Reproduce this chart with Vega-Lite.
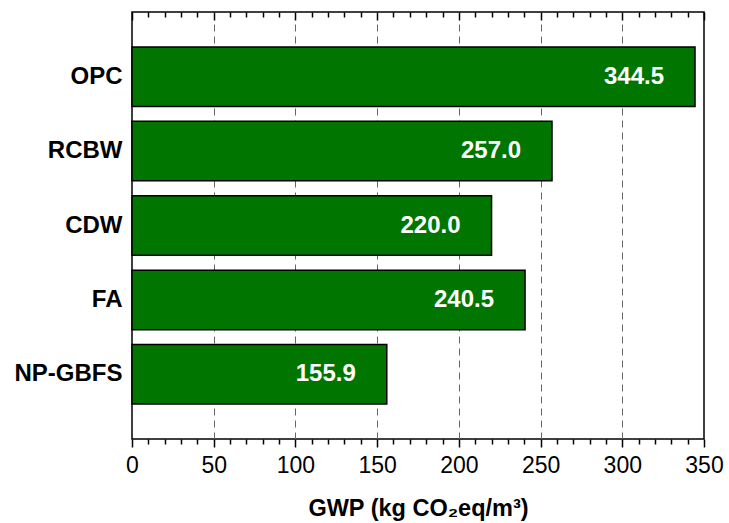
{
  "$schema": "https://vega.github.io/schema/vega-lite/v6.json",
  "width": 572,
  "height": 427,
  "autosize": "none",
  "padding": {"left": 132, "top": 12, "right": 25, "bottom": 84},
  "background": "white",
  "config": {
    "view": {"stroke": "black", "strokeWidth": 1.5},
    "font": "Liberation Sans"
  },
  "data": {
    "values": [
      {"material": "OPC", "gwp": 344.5},
      {"material": "RCBW", "gwp": 257.0},
      {"material": "CDW", "gwp": 220.0},
      {"material": "FA", "gwp": 240.5},
      {"material": "NP-GBFS", "gwp": 155.9}
    ]
  },
  "resolve": {"axis": {"x": "independent"}},
  "layer": [
    {
      "mark": {"type": "bar", "fill": "#007600", "stroke": "black", "strokeWidth": 1.5},
      "encoding": {
        "y": {
          "field": "material", "type": "nominal", "sort": null,
          "scale": {"paddingInner": 0.2, "paddingOuter": 0.47},
          "axis": {
            "title": null, "ticks": false, "domain": false,
            "labelFontSize": 24, "labelFontWeight": "bold", "labelColor": "black",
            "labelPadding": 10
          }
        },
        "x": {
          "field": "gwp", "type": "quantitative",
          "scale": {"domain": [0, 350], "nice": false},
          "axis": {
            "orient": "bottom",
            "values": [0,10,20,30,40,50,60,70,80,90,100,110,120,130,140,150,160,170,180,190,200,210,220,230,240,250,260,270,280,290,300,310,320,330,340,350],
            "labelExpr": "datum.value % 50 === 0 ? datum.label : ''",
            "tickSize": {"condition": {"test": "datum.value % 50 === 0", "value": 8}, "value": 5},
            "tickColor": "black", "tickWidth": 1.5,
            "domain": false,
            "grid": true, "gridDash": [7, 5], "gridColor": "#666666", "gridWidth": 1,
            "gridOpacity": {"condition": {"test": "datum.value % 50 === 0 && datum.value > 0 && datum.value < 350", "value": 1}, "value": 0},
            "labelFontSize": 23, "labelColor": "black", "labelPadding": 7,
            "labelOverlap": false, "labelFlush": false,
            "title": "GWP (kg CO₂eq/m³)",
            "titleFontSize": 23.5, "titleFontWeight": "bold", "titleColor": "black",
            "titlePadding": 19
          }
        }
      }
    },
    {
      "mark": {"type": "text", "align": "right", "dx": -31, "color": "white", "fontWeight": "bold", "fontSize": 24, "baseline": "middle"},
      "encoding": {
        "y": {"field": "material", "type": "nominal", "sort": null},
        "x": {
          "field": "gwp", "type": "quantitative",
          "axis": {
            "orient": "top",
            "values": [0,10,20,30,40,50,60,70,80,90,100,110,120,130,140,150,160,170,180,190,200,210,220,230,240,250,260,270,280,290,300,310,320,330,340,350],
            "labels": false, "title": null, "domain": false, "grid": false,
            "tickSize": {"condition": {"test": "datum.value % 50 === 0", "value": -8}, "value": -5},
            "tickColor": "black", "tickWidth": 1.5
          }
        },
        "text": {"field": "gwp", "type": "quantitative", "format": ".1f"}
      }
    }
  ]
}
